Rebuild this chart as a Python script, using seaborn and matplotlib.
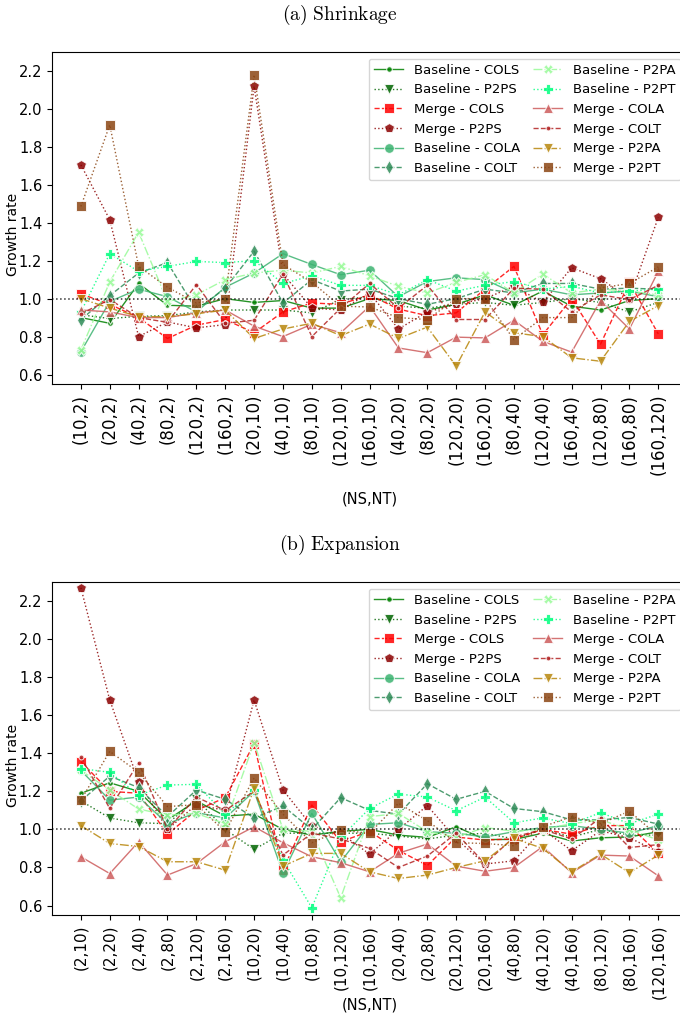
import matplotlib
matplotlib.use("Agg")
import matplotlib.pyplot as plt
import seaborn as sns
import pandas as pd
import numpy as np

plt.rcParams["mathtext.fontset"] = "cm"

# x tick labels (NS,NT)
shrink_labels = ["(10,2)", "(20,2)", "(40,2)", "(80,2)", "(120,2)", "(160,2)", "(20,10)",
                 "(40,10)", "(80,10)", "(120,10)", "(160,10)", "(40,20)", "(80,20)",
                 "(120,20)", "(160,20)", "(80,40)", "(120,40)", "(160,40)", "(120,80)",
                 "(160,80)", "(160,120)"]
expand_labels = ["(2,10)", "(2,20)", "(2,40)", "(2,80)", "(2,120)", "(2,160)", "(10,20)",
                 "(10,40)", "(10,80)", "(10,120)", "(10,160)", "(20,40)", "(20,80)",
                 "(20,120)", "(20,160)", "(40,80)", "(40,120)", "(40,160)", "(80,120)",
                 "(80,160)", "(120,160)"]

# growth rates - shrinkage
s_base_cols = [0.90, 0.87, 1.08, 0.965, 0.96, 1.0, 0.98, 0.99, 0.95, 0.95, 1.0, 0.99, 0.94, 0.97, 1.02, 0.965, 1.04, 0.96, 0.94, 0.99, 1.0]
s_base_p2ps = [0.915, 0.895, 0.907, 0.91, 0.93, 0.94, 0.94, 0.94, 0.925, 0.995, 1.01, 0.96, 0.95, 0.97, 0.98, 0.965, 0.98, 1.0, 0.98, 0.93, 0.98]
s_merge_cols = [1.025, 0.97, 0.90, 0.79, 0.86, 0.89, 0.82, 0.93, 0.977, 0.97, 1.02, 0.945, 0.91, 0.925, 1.05, 1.17, 0.81, 1.0, 0.76, 1.086, 0.814]
s_merge_p2ps = [1.705, 1.416, 0.80, 0.877, 0.846, 0.863, 2.12, 1.13, 0.95, 0.94, 1.03, 0.84, 0.93, 0.97, 1.0, 1.065, 0.98, 1.163, 1.105, 1.0, 1.428]
s_base_cola = [0.72, 0.985, 1.05, 1.01, 0.93, 1.06, 1.135, 1.237, 1.18, 1.126, 1.15, 1.01, 1.09, 1.11, 1.10, 1.03, 1.05, 1.02, 1.03, 1.04, 1.01]
s_base_colt = [0.89, 1.016, 1.135, 1.19, 0.94, 1.055, 1.25, 0.977, 1.1, 1.04, 1.05, 1.0, 0.97, 1.0, 1.05, 1.03, 1.08, 1.08, 1.05, 1.055, 1.05]
s_base_p2pa = [0.73, 1.088, 1.35, 0.985, 1.02, 1.10, 1.135, 1.15, 1.135, 1.17, 1.12, 1.065, 1.03, 1.086, 1.126, 1.03, 1.13, 1.03, 1.05, 1.04, 1.02]
s_base_p2pt = [0.93, 1.237, 1.144, 1.17, 1.196, 1.19, 1.2, 1.08, 1.12, 1.07, 1.07, 1.02, 1.1, 1.04, 1.07, 1.09, 1.05, 1.065, 1.03, 1.04, 1.05]
s_merge_cola = [0.94, 0.93, 0.90, 0.90, 0.925, 0.94, 0.855, 0.80, 0.865, 0.82, 0.96, 0.74, 0.715, 0.797, 0.793, 0.886, 0.775, 0.718, 0.99, 0.84, 1.144]
s_merge_colt = [0.92, 0.995, 0.90, 0.875, 1.074, 0.87, 0.886, 1.13, 0.80, 0.95, 1.08, 0.95, 1.07, 0.89, 0.89, 1.055, 1.05, 0.93, 1.02, 0.995, 1.07]
s_merge_p2pa = [1.0, 0.95, 0.905, 0.905, 0.92, 0.94, 0.79, 0.84, 0.87, 0.805, 0.866, 0.79, 0.85, 0.644, 0.93, 0.82, 0.80, 0.688, 0.67, 0.88, 0.963]
s_merge_p2pt = [1.486, 1.916, 1.17, 1.06, 0.977, 1.0, 2.18, 1.18, 1.086, 0.96, 0.956, 0.90, 0.89, 1.0, 1.0, 0.784, 0.90, 0.90, 1.056, 1.08, 1.167]

# growth rates - expansion
e_base_cols = [1.19, 1.245, 1.2, 1.05, 1.15, 1.07, 1.08, 1.0, 0.97, 0.99, 1.0, 0.97, 0.958, 1.014, 0.947, 0.947, 0.98, 0.939, 0.956, 0.96, 0.988]
e_base_p2ps = [1.15, 1.06, 1.035, 1.03, 1.16, 1.0, 0.895, 0.98, 0.98, 0.98, 0.98, 0.965, 0.95, 0.97, 0.98, 0.95, 1.0, 0.96, 1.0, 0.97, 0.97]
e_merge_cols = [1.356, 1.2, 1.19, 0.975, 1.1, 1.167, 1.45, 0.786, 1.128, 0.935, 0.99, 0.89, 0.81, 0.96, 0.944, 0.95, 1.0, 0.975, 1.02, 1.02, 0.874]
e_merge_p2ps = [2.27, 1.68, 1.25, 1.0, 1.13, 1.1, 1.68, 1.207, 1.017, 0.98, 0.87, 1.0, 1.125, 0.95, 0.818, 0.835, 1.0, 0.888, 0.993, 0.956, 0.882]
e_base_cola = [1.31, 1.154, 1.17, 1.03, 1.088, 1.06, 1.2, 0.77, 1.084, 0.83, 1.026, 1.035, 0.988, 0.98, 0.96, 0.988, 1.01, 1.02, 1.0, 0.98, 1.02]
e_base_colt = [1.15, 1.28, 1.22, 1.067, 1.207, 1.158, 1.06, 1.123, 1.0, 1.167, 1.1, 1.08, 1.24, 1.158, 1.2, 1.11, 1.093, 1.05, 1.05, 1.063, 1.028]
e_base_p2pa = [1.31, 1.207, 1.107, 1.075, 1.084, 1.03, 1.456, 1.0, 0.99, 0.64, 1.067, 1.084, 0.988, 0.96, 1.01, 0.99, 1.0, 1.03, 1.05, 1.0, 0.944]
e_base_p2pt = [1.32, 1.30, 1.18, 1.233, 1.237, 1.08, 1.207, 0.84, 0.588, 0.958, 1.11, 1.186, 1.17, 1.098, 1.17, 1.035, 1.06, 1.03, 1.088, 1.03, 1.08]
e_merge_cola = [0.856, 0.768, 0.935, 0.76, 0.82, 0.935, 1.014, 0.93, 0.856, 0.825, 0.777, 0.875, 0.923, 0.807, 0.78, 0.80, 0.91, 0.772, 0.865, 0.86, 0.756]
e_merge_colt = [1.38, 1.11, 1.35, 1.0, 1.17, 1.1, 1.2, 0.865, 0.98, 0.95, 0.9, 0.8, 0.86, 0.98, 0.82, 0.96, 1.0, 0.95, 1.06, 0.905, 0.92]
e_merge_p2pa = [1.02, 0.926, 0.91, 0.83, 0.83, 0.786, 1.216, 0.807, 0.874, 0.874, 0.777, 0.742, 0.76, 0.80, 0.835, 0.953, 0.9, 0.777, 0.87, 0.772, 0.865]
e_merge_p2pt = [1.154, 1.41, 1.30, 1.12, 1.13, 0.988, 1.27, 1.08, 0.93, 0.996, 0.98, 1.137, 1.046, 0.93, 0.926, 0.914, 1.014, 1.067, 1.03, 1.096, 0.965]

series_names = ["Baseline - COLS", "Baseline - P2PS", "Merge - COLS", "Merge - P2PS",
                "Baseline - COLA", "Baseline - COLT", "Baseline - P2PA", "Baseline - P2PT",
                "Merge - COLA", "Merge - COLT", "Merge - P2PA", "Merge - P2PT"]
shrink_vals = [s_base_cols, s_base_p2ps, s_merge_cols, s_merge_p2ps, s_base_cola, s_base_colt,
               s_base_p2pa, s_base_p2pt, s_merge_cola, s_merge_colt, s_merge_p2pa, s_merge_p2pt]
expand_vals = [e_base_cols, e_base_p2ps, e_merge_cols, e_merge_p2ps, e_base_cola, e_base_colt,
               e_base_p2pa, e_base_p2pt, e_merge_cola, e_merge_colt, e_merge_p2pa, e_merge_p2pt]

# styles per series
colors = ["green", "darkgreen", "red", "darkred", "mediumseagreen", "seagreen",
          "palegreen", "springgreen", "indianred", "firebrick", "darkgoldenrod", "saddlebrown"]
markers = [".", "v", "s", "p", "o", "d", "X", "P", "^", ".", "v", "s"]
linestyles = ["-", ":", "--", ":", "-", "--", "-.", ":", "-", "--", "-.", ":"]
msizes = [8, 7, 7, 7, 7, 7, 7, 7, 7, 7, 7, 7]


def draw_panel(ax, labels, values, tick_fs, xlabel_y):
    for name, vals, c, m, ls, ms in zip(series_names, values, colors, markers, linestyles, msizes):
        df = pd.DataFrame({"x": np.arange(len(labels)), "y": vals})
        sns.lineplot(data=df, x="x", y="y", ax=ax, color=c, marker=m, linestyle=ls,
                     markersize=ms, linewidth=1, alpha=0.85, label=name)
    ax.axhline(1.0, color="black", linestyle=":", linewidth=1.1, alpha=0.8)
    ax.set_xticks(np.arange(len(labels)))
    ax.set_xticklabels(labels, rotation=90, fontsize=tick_fs)
    ax.set_xlim(-1, len(labels))
    ax.set_ylim(0.55, 2.30)
    ax.set_yticks(np.arange(0.6, 2.21, 0.2))
    ax.tick_params(axis="y", labelsize=10.5)
    ax.set_xlabel("(NS,NT)", fontsize=10.5)
    ax.set_ylabel("Growth rate", fontsize=10)
    ax.xaxis.set_label_coords(0.5, xlabel_y)
    ax.yaxis.set_label_coords(-0.05, 0.45)
    ax.legend(loc="upper right", ncol=2, fontsize=9.5, handlelength=2.2, columnspacing=1.0)


fig = plt.figure(figsize=(6.8, 10.14), dpi=100)
ax1 = fig.add_axes([0.0765, 0.6213, 0.934, 0.3274])
ax2 = fig.add_axes([0.0765, 0.0976, 0.934, 0.3284])

draw_panel(ax1, shrink_labels, shrink_vals, 12, -0.325)
draw_panel(ax2, expand_labels, expand_vals, 11, -0.248)

fig.text(0.5, 0.985, r"$\mathrm{(a)\ Shrinkage}$", ha="center", va="center", fontsize=14)
fig.text(0.5, 0.4625, r"$\mathrm{(b)\ Expansion}$", ha="center", va="center", fontsize=14)

fig.savefig("out.png", dpi=100)
